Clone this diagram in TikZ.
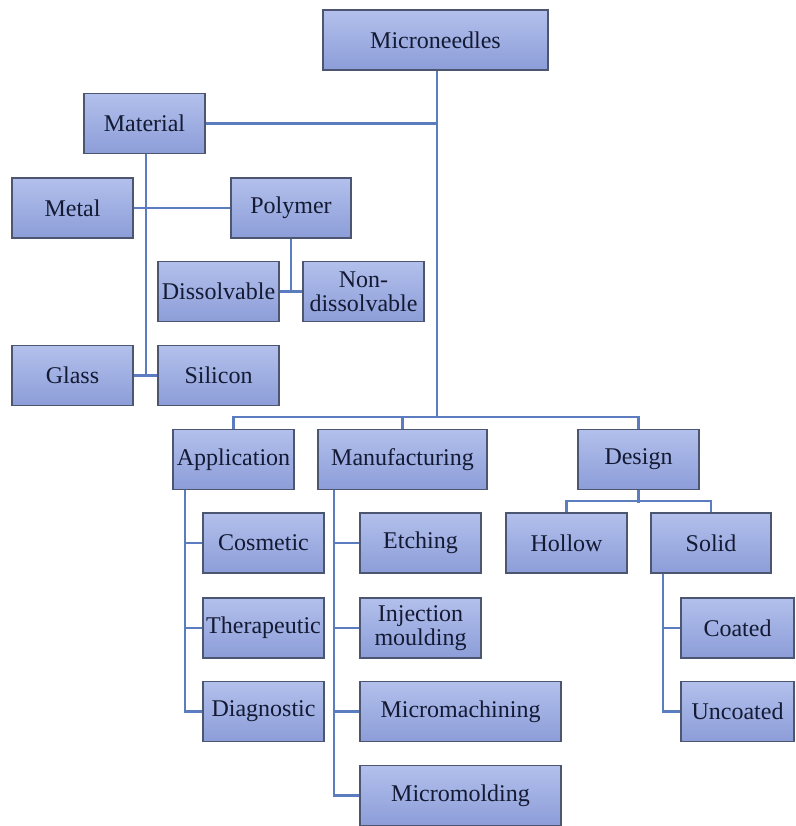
\documentclass[tikz,border=0pt]{standalone}
\usepackage{fontspec}
\setmainfont{Liberation Serif}
\definecolor{boxtop}{HTML}{B3C0EC}
\definecolor{boxbot}{HTML}{8C9DD8}
\definecolor{boxline}{HTML}{4D5670}
\definecolor{conn}{HTML}{5B7CBF}
\definecolor{txt}{HTML}{141A33}
\tikzset{
  box/.style={draw=boxline, line width=1.3pt, top color=boxtop, bottom color=boxbot,
    minimum width=121pt, minimum height=60pt, inner sep=1pt, align=center,
    text=txt, font=\fontsize{24}{24}\selectfont},
  link/.style={draw=conn, line width=2.2pt}
}
\begin{document}
\begin{tikzpicture}[x=1pt,y=-1pt]
\useasboundingbox (0,0) rectangle (795,826);
% nodes
\node[box, minimum width=225pt] (micro) at (435.5,40) {Microneedles};
\node[box] (material) at (144.5,123.5) {Material};
\node[box] (metal) at (72.5,208) {Metal};
\node[box, minimum width=120pt] (polymer) at (291,208) {Polymer};
\node[box] (diss) at (218.5,291.5) {Dissolvable};
\node[box] (nondiss) at (363.5,291.5) {Non-\\dissolvable};
\node[box] (glass) at (72.5,375.5) {Glass};
\node[box] (silicon) at (218.5,375.5) {Silicon};
\node[box] (app) at (233.5,459.5) {Application};
\node[box, minimum width=169pt] (manu) at (402.5,459.5) {Manufacturing};
\node[box] (design) at (638.5,459.5) {Design};
\node[box] (hollow) at (566.5,543) {Hollow};
\node[box, minimum width=120pt] (solid) at (711,543) {Solid};
\node[box] (cosm) at (263.5,543) {Cosmetic};
\node[box] (thera) at (263.5,628) {Therapeutic};
\node[box] (diag) at (263.5,711.5) {Diagnostic};
\node[box] (etch) at (420.5,543) {Etching};
\node[box] (inj) at (420.5,628) {Injection\\moulding};
\node[box, minimum width=201pt] (mmach) at (460.5,711.5) {Micromachining};
\node[box, minimum width=201pt] (mmold) at (460.5,795.5) {Micromolding};
\node[box, minimum width=113pt] (coated) at (737.5,628) {Coated};
\node[box, minimum width=113pt] (uncoated) at (737.5,711.5) {Uncoated};
% coordinates
\coordinate (trunk) at ([xshift=1.5pt]micro.south);
\coordinate (busy) at ([yshift=12pt]app.north);
\coordinate (appv) at ([xshift=13pt]app.south west);
\coordinate (manv) at ([xshift=17pt]manu.south west);
\coordinate (solv) at ([xshift=13pt]solid.south west);
% connectors
\draw[link] (trunk) -- (trunk |- busy);
\draw[link] (material.east) -- (material.east -| trunk);
\draw[link] ([xshift=1.5pt]material.south) -- ([xshift=1.5pt]material.south |- glass.east);
\draw[link] (metal.east) -- (polymer.west);
\draw[link] (glass.east) -- (silicon.west);
\draw[link] (polymer.south) -- (polymer.south |- diss.east);
\draw[link] (diss.east) -- (nondiss.west);
\draw[link] (app.north) -- (busy) -| (design.north);
\draw[link] (manu.north) -- (manu.north |- busy);
\draw[link] (design.south) -- ++(0,13);
\draw[link] (hollow.north) -- ++(0,-11) -| (solid.north);
\draw[link] (appv) |- (diag.west);
\draw[link] (cosm.west) -- (cosm.west -| appv);
\draw[link] (thera.west) -- (thera.west -| appv);
\draw[link] (manv) |- (mmold.west);
\draw[link] (etch.west) -- (etch.west -| manv);
\draw[link] (inj.west) -- (inj.west -| manv);
\draw[link] (mmach.west) -- (mmach.west -| manv);
\draw[link] (solv) |- (uncoated.west);
\draw[link] (coated.west) -- (coated.west -| solv);
\end{tikzpicture}
\end{document}
